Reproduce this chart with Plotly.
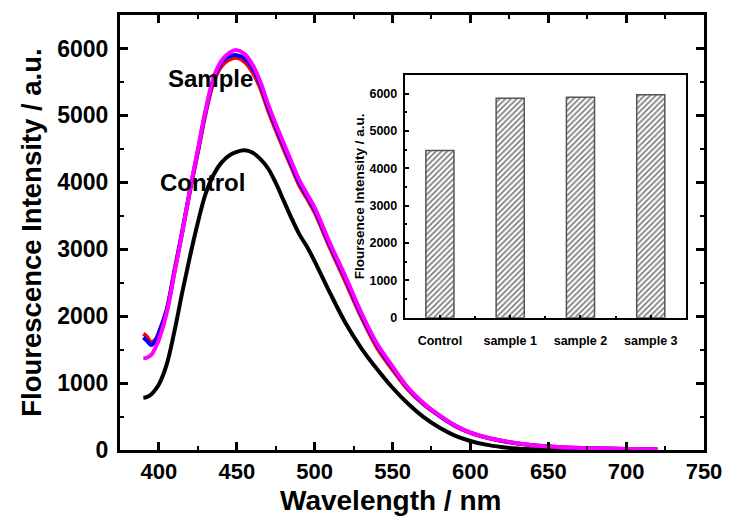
import plotly.graph_objects as go

# ---- data ----
wavelength = [390, 392, 395, 398, 400, 405, 410, 415, 420, 425, 430, 435, 440, 445, 450,
              455, 460, 465, 470, 475, 480, 485, 490, 495, 500, 510, 520, 530, 540, 550,
              560, 570, 580, 590, 600, 610, 620, 630, 640, 650, 660, 680, 700, 720]

control = [780, 790, 830, 910, 980, 1280, 1780, 2360, 2900, 3400, 3830, 4110, 4290, 4400, 4455,
           4478, 4445, 4350, 4210, 3990, 3730, 3470, 3230, 3040, 2820, 2340, 1890, 1520, 1210, 930,
           690, 490, 335, 215, 135, 80, 45, 22, 10, 4, 2, 1, 1, 0]

sample1 = [1740, 1700, 1610, 1660, 1760, 2100, 2680, 3260, 3880, 4450, 5030, 5490, 5730, 5830, 5860,
           5800, 5650, 5410, 5080, 4780, 4500, 4230, 3960, 3760, 3550, 3010, 2500, 1980, 1530, 1200,
           900, 680, 510, 360, 255, 185, 135, 98, 70, 53, 38, 24, 14, 9]

sample2 = [1680, 1640, 1570, 1640, 1750, 2090, 2680, 3270, 3890, 4470, 5060, 5530, 5780, 5880, 5900,
           5850, 5710, 5470, 5130, 4830, 4550, 4270, 4000, 3800, 3590, 3050, 2550, 2020, 1570, 1230,
           920, 690, 515, 365, 258, 188, 138, 99, 71, 54, 39, 25, 15, 10]

sample3 = [1370, 1375, 1420, 1540, 1650, 2050, 2650, 3250, 3900, 4490, 5080, 5560, 5810, 5935, 5975,
           5915, 5760, 5510, 5170, 4870, 4590, 4310, 4040, 3830, 3620, 3080, 2580, 2050, 1590, 1250,
           930, 700, 520, 370, 260, 190, 140, 100, 72, 55, 40, 25, 15, 10]

bar_categories = ["Control", "sample 1", "sample 2", "sample 3"]
bar_values = [4480, 5880, 5905, 5975]

x_ticks_main = [400, 450, 500, 550, 600, 650, 700, 750]
y_ticks_main = [0, 1000, 2000, 3000, 4000, 5000, 6000]
y_ticks_inset = [0, 1000, 2000, 3000, 4000, 5000, 6000]

FONT = "Liberation Sans, Arial, sans-serif"

fig = go.Figure()

series = [("Control", control, "black"), ("sample 1", sample1, "red"),
          ("sample 2", sample2, "blue"), ("sample 3", sample3, "magenta")]
for name, vals, col in series:
    fig.add_trace(go.Scatter(x=wavelength, y=vals, mode="lines", name=name,
                             line=dict(color=col, width=4, shape="spline", smoothing=1.0),
                             showlegend=False, xaxis="x", yaxis="y"))

fig.add_trace(go.Bar(x=list(range(len(bar_categories))), y=bar_values, width=0.4,
                     marker=dict(color="white",
                                 pattern=dict(shape="/", fgcolor="black", bgcolor="white",
                                              size=4, solidity=0.45),
                                 line=dict(color="#555555", width=1.5)),
                     showlegend=False, xaxis="x2", yaxis="y2"))

fig.update_layout(
    width=734, height=520,
    margin=dict(l=120, r=24, t=15, b=70),
    paper_bgcolor="white", plot_bgcolor="white",
    font=dict(family=FONT, color="black"),
    xaxis=dict(domain=[0, 1], range=[375, 750], tickvals=x_ticks_main,
               ticktext=[f"<b>{v}</b>" for v in x_ticks_main],
               tickfont=dict(size=22), ticks="inside", ticklen=8, tickwidth=2.5,
               tickcolor="black",
               minor=dict(dtick=25, tick0=375, ticks="inside", ticklen=4, tickwidth=2, tickcolor="black"),
               showline=True, linewidth=3, linecolor="black", mirror="ticks",
               showgrid=False, zeroline=False),
    yaxis=dict(domain=[0, 1], range=[0, 6500], tickvals=y_ticks_main,
               ticktext=[f"<b>{v}</b>" for v in y_ticks_main],
               tickfont=dict(size=23), ticks="inside", ticklen=8, tickwidth=2.5,
               tickcolor="black", ticklabelstandoff=4,
               minor=dict(dtick=500, tick0=0, ticks="inside", ticklen=4, tickwidth=2, tickcolor="black"),
               showline=True, linewidth=3, linecolor="black", mirror="ticks",
               showgrid=False, zeroline=False),
    xaxis2=dict(domain=[0.4876, 0.969], anchor="y2", range=[-0.5, 3.5],
                tickvals=list(range(len(bar_categories))),
                ticktext=[f"<b>{c}</b>" for c in bar_categories],
                tickfont=dict(size=12.5), ticks="inside", ticklen=3, tickwidth=1.5, tickcolor="black",
                ticklabelstandoff=10,
                minor=dict(dtick=1, tick0=0.5, ticks="inside", ticklen=2, tickwidth=1.5, tickcolor="black"),
                showline=True, linewidth=2, linecolor="black", mirror=True,
                showgrid=False, zeroline=False),
    yaxis2=dict(domain=[0.304, 0.862], anchor="x2", range=[0, 6500],
                tickvals=y_ticks_inset, ticktext=[f"<b>{v}</b>" for v in y_ticks_inset],
                tickfont=dict(size=12.5), ticks="inside", ticklen=4, tickwidth=1.5, tickcolor="black",
                ticklabelstandoff=3,
                minor=dict(dtick=500, tick0=0, ticks="inside", ticklen=2, tickwidth=1.5, tickcolor="black"),
                showline=True, linewidth=2, linecolor="black", mirror=True,
                showgrid=False, zeroline=False,
                title=dict(text="<b>Floursence Intensity / a.u.</b>", font=dict(size=13.5), standoff=2)),
    annotations=[
        dict(x=433, y=5550, xref="x", yref="y", text="<b>Sample</b>", showarrow=False,
             font=dict(size=24, family=FONT, color="black")),
        dict(x=428, y=4000, xref="x", yref="y", text="<b>Control</b>", showarrow=False,
             font=dict(size=24, family=FONT, color="black")),
        dict(x=0.464, y=-0.115, xref="paper", yref="paper", text="<b>Wavelength / nm</b>",
             showarrow=False, xanchor="center", yanchor="middle",
             font=dict(size=28, family=FONT, color="black")),
        dict(x=-0.152, y=0.5, xref="paper", yref="paper", text="<b>Flourescence Intensity / a.u.</b>",
             showarrow=False, xanchor="center", yanchor="middle", textangle=-90,
             font=dict(size=27.5, family=FONT, color="black")),
    ],
)

fig.write_html("out.html")
